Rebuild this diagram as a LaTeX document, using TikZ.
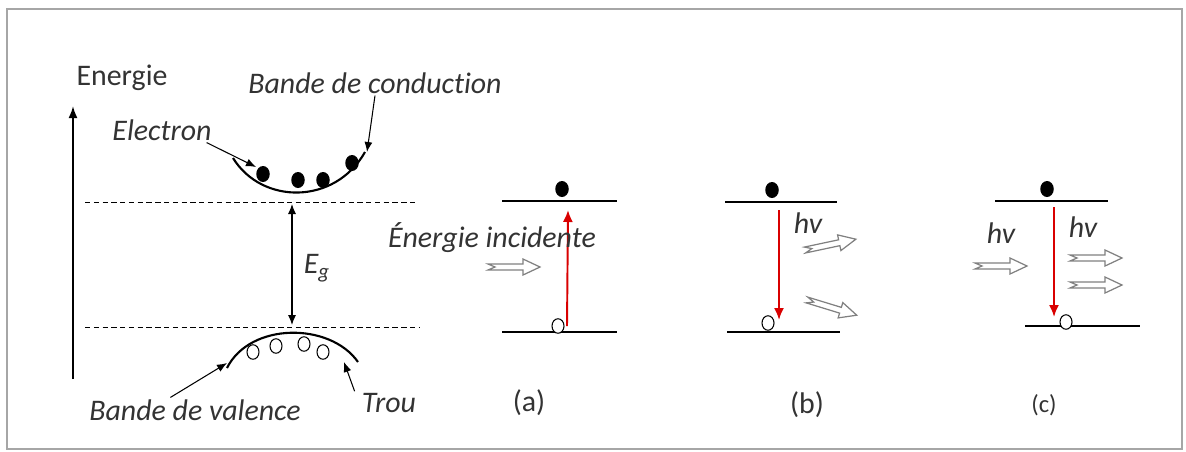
\documentclass[tikz,border=0pt]{standalone}
\usepackage{fontspec}
\setmainfont{Carlito}[Ligatures=NoCommon]
\usetikzlibrary{arrows.meta,shapes.geometric}
\tikzset{
  frame/.style={draw=gray!70,line width=1.2pt},
  axisarr/.style={-{Latex[length=2.4mm,width=1.8mm]},line width=1.1pt},
  bandline/.style={line width=1.2pt},
  gapline/.style={line width=.5pt,dash pattern=on 3pt off 2pt},
  lvl/.style={line width=1.2pt},
  elec/.style={ellipse,fill=black,inner sep=0pt,minimum width=2.7mm,minimum height=3.2mm},
  hole/.style={ellipse,draw,fill=white,line width=.6pt,inner sep=0pt,minimum width=2.4mm,minimum height=2.9mm},
  ptr/.style={-{Latex[length=2mm,width=1.6mm]},line width=.6pt},
  gaparr/.style={{Latex[length=2mm,width=1.6mm]}-{Latex[length=2mm,width=1.6mm]},line width=.6pt},
  trans/.style={-{Latex[length=2.4mm,width=2mm]},line width=1.1pt,red!85!black},
  lab/.style={font=\itshape\fontsize{17}{19}\selectfont,text=black!80,inner sep=1pt},
  rlab/.style={font=\fontsize{17}{19}\selectfont,text=black!80,inner sep=1pt},
  photon/.pic={\draw[gray,line width=.7pt] (0,-3)--(35,-3)--(35,-8)--(52,0)--(35,8)--(35,3)--(0,3)--(7,0)--cycle;}
}
\begin{document}
\begin{tikzpicture}[x=0.02cm,y=-0.02cm]
  \useasboundingbox (0,0) rectangle (1186,451);
  \draw[frame] (7,9) rectangle (1182,449);

  % diagramme de bandes
  \node[rlab] (energie) at (122,78) {Energie};
  \coordinate (axb) at (73,379); \coordinate (axt) at (73,106);
  \draw[axisarr] (axb) -- (axt);
  \draw[gapline] (85,202) -- (418,202);
  \draw[gapline] (85,327) -- (420,327);
  \coordinate (egt) at (292,204); \coordinate (egb) at (292,325);
  \draw[gaparr] (egt) -- (egb);
  \node[lab] (eg) at (317,268) {E\textsubscript{g}};

  \draw[bandline] (233,158) .. controls (262,205) and (335,205) .. (365,152);
  \node[elec] (e1) at (263,174) {}; \node[elec] (e2) at (298,180) {};
  \node[elec] (e3) at (323,180) {}; \node[elec] (e4) at (352,163) {};
  \draw[bandline] (227,368) .. controls (250,322) and (330,322) .. (358,362);
  \node[hole] (h1) at (253,352) {}; \node[hole] (h2) at (276,346) {};
  \node[hole] (h3) at (304,344) {}; \node[hole] (h4) at (323,352) {};

  \node[lab] (electron) at (162,130) {Electron};
  \node[lab] (bc) at (375,83) {Bande de conduction};
  \node[lab] (bv) at (195,410) {Bande de valence};
  \node[lab] (trou) at (389,403) {Trou};
  \coordinate (elt) at (256,167); \coordinate (bct) at (367,152);
  \coordinate (bvt) at (227,363); \coordinate (trt) at (344,362);
  \draw[ptr] ([xshift=-4pt]electron.south east) -- (elt);
  \draw[ptr] (bc.south) -- (bct);
  \draw[ptr] ([xshift=-14pt]bv.north) -- (bvt);
  \draw[ptr] ([xshift=-3pt]trou.north west) -- (trt);

  % (a) absorption
  \draw[lvl] (502,201) -- (617,201); \draw[lvl] (502,332) -- (617,332);
  \node[elec] (ea) at (562,189) {}; \node[hole] (ha) at (558,326) {};
  \coordinate (ta) at (567,326); \coordinate (tat) at (568,210);
  \draw[trans] (ta) -- (tat);
  \node[lab] (inc) at (492,238) {Énergie incidente};
  \pic at (488,267) {photon};
  \node[rlab] (la) at (529,403) {(a)};

  % (b) emission spontanee
  \draw[lvl] (725,202) -- (837,202); \draw[lvl] (727,332) -- (840,332);
  \node[elec] (eb) at (772,190) {}; \node[hole] (hb) at (768,323) {};
  \coordinate (tb) at (779,210); \coordinate (tbt) at (779,320);
  \draw[trans] (tb) -- (tbt);
  \node[lab] (hvb) at (808,223) {hv};
  \pic[rotate=12] at (805,250) {photon};
  \pic[rotate=-17] at (807,300) {photon};
  \node[rlab] (lb) at (807,405) {(b)};

  % (c) emission stimulee
  \draw[lvl] (995,201) -- (1108,201); \draw[lvl] (1025,326) -- (1140,326);
  \node[elec] (ec) at (1047,189) {}; \node[hole] (hc) at (1066,322) {};
  \coordinate (tc) at (1054,207); \coordinate (tct) at (1054,317);
  \draw[trans] (tc) -- (tct);
  \node[lab] (hvc1) at (1001,233) {hv};
  \node[lab] (hvc2) at (1083,227) {hv};
  \pic at (975,266) {photon};
  \pic at (1070,258) {photon};
  \pic at (1070,285) {photon};
  \node[rlab,font=\fontsize{14}{16}\selectfont] (lc) at (1044,405) {(c)};
\end{tikzpicture}
\end{document}
